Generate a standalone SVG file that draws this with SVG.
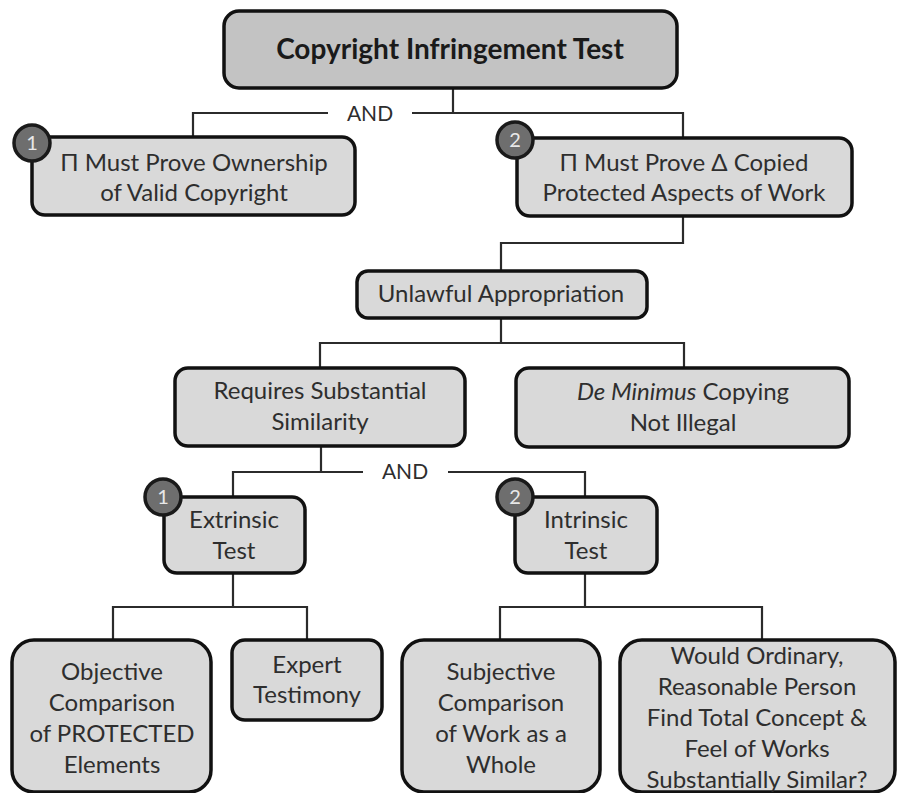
<svg xmlns="http://www.w3.org/2000/svg" width="897" height="793" viewBox="0 0 897 793">
  <style>
    .box { fill: #d9d9d9; stroke: #111; stroke-width: 3.5; }
    .title-box { fill: #c3c3c3; stroke: #111; stroke-width: 3.5; }
    .badge circle { fill: #6e6e6e; stroke: #1a1a1a; stroke-width: 3.5; }
    .badge text { fill: #e8e8e8; font-size: 20px; text-anchor: middle; }
    text { font-family: Lato, "Liberation Sans", sans-serif; }
    .label { fill: #2e2e2e; font-size: 24px; text-anchor: middle; }
    .title { fill: #1a1a1a; font-size: 28px; font-weight: bold; text-anchor: middle; }
    .conn { fill: none; stroke: #2b2b2b; stroke-width: 2.2; }
    .and { fill: #2e2e2e; font-size: 21px; text-anchor: middle; }
  </style>

  <g id="connectors">
    <!-- root to the two required elements -->
    <path class="conn" d="M453 88 V113 M193 137 V113 H328 M412 113 H683 V138"/>
    <!-- copying to unlawful appropriation -->
    <path class="conn" d="M683 216 V243 H501 V271"/>
    <!-- unlawful appropriation branches -->
    <path class="conn" d="M501 318 V343 M320 368 V343 H684 V368"/>
    <!-- substantial similarity tests -->
    <path class="conn" d="M321 446 V472 M233 497 V472 H363 M448 472 H585 V497"/>
    <!-- extrinsic test children -->
    <path class="conn" d="M233 573 V607 M113 640 V607 H307 V640"/>
    <!-- intrinsic test children -->
    <path class="conn" d="M585 573 V607 M500 640 V607 H762 V640"/>
    <text class="and" x="370" y="121">AND</text>
    <text class="and" x="405" y="479">AND</text>
  </g>

  <g id="root">
    <rect class="title-box" x="224" y="11" width="453" height="77" rx="15"/>
    <text class="title" x="450" y="59">Copyright Infringement Test</text>
  </g>

  <g id="ownership">
    <rect class="box" x="32" y="137" width="323" height="78" rx="13"/>
    <text class="label" x="194" y="171">Π Must Prove Ownership</text>
    <text class="label" x="194" y="201">of Valid Copyright</text>
    <g class="badge"><circle cx="32" cy="143" r="18"/><text x="32" y="150">1</text></g>
  </g>

  <g id="copying">
    <rect class="box" x="517" y="138" width="335" height="78" rx="13"/>
    <text class="label" x="684" y="171">Π Must Prove Δ Copied</text>
    <text class="label" x="684" y="201">Protected Aspects of Work</text>
    <g class="badge"><circle cx="515" cy="140" r="18"/><text x="515" y="147">2</text></g>
  </g>

  <g id="unlawful">
    <rect class="box" x="357" y="271" width="290" height="47" rx="11"/>
    <text class="label" x="501" y="302">Unlawful Appropriation</text>
  </g>

  <g id="similarity">
    <rect class="box" x="175" y="368" width="290" height="78" rx="13"/>
    <text class="label" x="320" y="399">Requires Substantial</text>
    <text class="label" x="320" y="430">Similarity</text>
  </g>

  <g id="de-minimus">
    <rect class="box" x="516" y="368" width="333" height="79" rx="13"/>
    <text class="label" x="683" y="400"><tspan font-style="italic">De Minimus</tspan> Copying</text>
    <text class="label" x="683" y="431">Not Illegal</text>
  </g>

  <g id="extrinsic">
    <rect class="box" x="164" y="497" width="141" height="76" rx="13"/>
    <text class="label" x="234" y="528">Extrinsic</text>
    <text class="label" x="234" y="559">Test</text>
    <g class="badge"><circle cx="163" cy="497" r="18"/><text x="163" y="504">1</text></g>
  </g>

  <g id="intrinsic">
    <rect class="box" x="515" y="497" width="142" height="76" rx="13"/>
    <text class="label" x="586" y="528">Intrinsic</text>
    <text class="label" x="586" y="559">Test</text>
    <g class="badge"><circle cx="515" cy="497" r="18"/><text x="515" y="504">2</text></g>
  </g>

  <g id="objective">
    <rect class="box" x="12" y="640" width="199" height="152" rx="22"/>
    <text class="label" x="112" y="680">Objective</text>
    <text class="label" x="112" y="711">Comparison</text>
    <text class="label" x="112" y="742">of PROTECTED</text>
    <text class="label" x="112" y="773">Elements</text>
  </g>

  <g id="expert">
    <rect class="box" x="232" y="640" width="150" height="80" rx="13"/>
    <text class="label" x="307" y="673">Expert</text>
    <text class="label" x="307" y="703">Testimony</text>
  </g>

  <g id="subjective">
    <rect class="box" x="402" y="640" width="198" height="152" rx="22"/>
    <text class="label" x="501" y="680">Subjective</text>
    <text class="label" x="501" y="711">Comparison</text>
    <text class="label" x="501" y="742">of Work as a</text>
    <text class="label" x="501" y="773">Whole</text>
  </g>

  <g id="ordinary-person">
    <rect class="box" x="620" y="640" width="275" height="152" rx="22"/>
    <text class="label" x="757" y="664">Would Ordinary,</text>
    <text class="label" x="757" y="695">Reasonable Person</text>
    <text class="label" x="757" y="726">Find Total Concept &amp;</text>
    <text class="label" x="757" y="757">Feel of Works</text>
    <text class="label" x="757" y="788">Substantially Similar?</text>
  </g>
</svg>
